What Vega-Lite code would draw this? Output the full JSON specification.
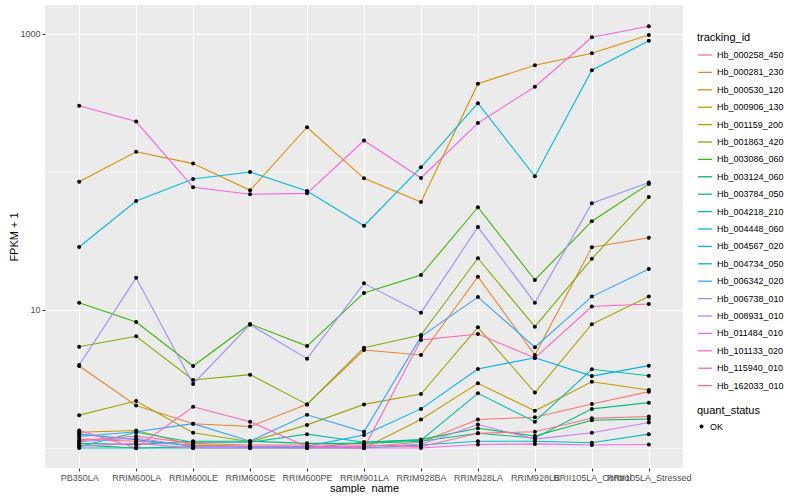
{
  "$schema": "https://vega.github.io/schema/vega-lite/v6.json",
  "width": 638,
  "height": 463,
  "padding": {"left": 8, "top": 5, "right": 0, "bottom": 0},
  "background": "white",
  "datasets": {
    "d": [
      {"s":"PB350LA","id":"Hb_000258_450","v":1.16},{"s":"RRIM600LA","id":"Hb_000258_450","v":1.12},{"s":"RRIM600LE","id":"Hb_000258_450","v":1.05},{"s":"RRIM600SE","id":"Hb_000258_450","v":1.02},{"s":"RRIM600PE","id":"Hb_000258_450","v":1.02},{"s":"RRIM901LA","id":"Hb_000258_450","v":1.02},{"s":"RRIM928BA","id":"Hb_000258_450","v":1.1},{"s":"RRIM928LA","id":"Hb_000258_450","v":1.61},{"s":"RRIM928LB","id":"Hb_000258_450","v":1.67},{"s":"RRII105LA_Control","id":"Hb_000258_450","v":2.08},{"s":"RRII105LA_Stressed","id":"Hb_000258_450","v":2.56},
      {"s":"PB350LA","id":"Hb_000281_230","v":3.93},{"s":"RRIM600LA","id":"Hb_000281_230","v":2.03},{"s":"RRIM600LE","id":"Hb_000281_230","v":1.5},{"s":"RRIM600SE","id":"Hb_000281_230","v":1.43},{"s":"RRIM600PE","id":"Hb_000281_230","v":2.07},{"s":"RRIM901LA","id":"Hb_000281_230","v":5.13},{"s":"RRIM928BA","id":"Hb_000281_230","v":4.72},{"s":"RRIM928LA","id":"Hb_000281_230","v":17.4},{"s":"RRIM928LB","id":"Hb_000281_230","v":4.72},{"s":"RRII105LA_Control","id":"Hb_000281_230","v":28.5},{"s":"RRII105LA_Stressed","id":"Hb_000281_230","v":33.4},
      {"s":"PB350LA","id":"Hb_000530_120","v":85},{"s":"RRIM600LA","id":"Hb_000530_120","v":140},{"s":"RRIM600LE","id":"Hb_000530_120","v":115},{"s":"RRIM600SE","id":"Hb_000530_120","v":73.6},{"s":"RRIM600PE","id":"Hb_000530_120","v":211},{"s":"RRIM901LA","id":"Hb_000530_120","v":90},{"s":"RRIM928BA","id":"Hb_000530_120","v":60.6},{"s":"RRIM928LA","id":"Hb_000530_120","v":436},{"s":"RRIM928LB","id":"Hb_000530_120","v":593},{"s":"RRII105LA_Control","id":"Hb_000530_120","v":725},{"s":"RRII105LA_Stressed","id":"Hb_000530_120","v":984},
      {"s":"PB350LA","id":"Hb_000906_130","v":1.3},{"s":"RRIM600LA","id":"Hb_000906_130","v":1.34},{"s":"RRIM600LE","id":"Hb_000906_130","v":1.05},{"s":"RRIM600SE","id":"Hb_000906_130","v":1.03},{"s":"RRIM600PE","id":"Hb_000906_130","v":1.03},{"s":"RRIM901LA","id":"Hb_000906_130","v":1.0},{"s":"RRIM928BA","id":"Hb_000906_130","v":1.61},{"s":"RRIM928LA","id":"Hb_000906_130","v":2.94},{"s":"RRIM928LB","id":"Hb_000906_130","v":1.86},{"s":"RRII105LA_Control","id":"Hb_000906_130","v":3.02},{"s":"RRII105LA_Stressed","id":"Hb_000906_130","v":2.63},
      {"s":"PB350LA","id":"Hb_001159_200","v":1.73},{"s":"RRIM600LA","id":"Hb_001159_200","v":2.19},{"s":"RRIM600LE","id":"Hb_001159_200","v":1.29},{"s":"RRIM600SE","id":"Hb_001159_200","v":1.11},{"s":"RRIM600PE","id":"Hb_001159_200","v":1.47},{"s":"RRIM901LA","id":"Hb_001159_200","v":2.07},{"s":"RRIM928BA","id":"Hb_001159_200","v":2.46},{"s":"RRIM928LA","id":"Hb_001159_200","v":7.49},{"s":"RRIM928LB","id":"Hb_001159_200","v":2.52},{"s":"RRII105LA_Control","id":"Hb_001159_200","v":7.88},{"s":"RRII105LA_Stressed","id":"Hb_001159_200","v":12.5},
      {"s":"PB350LA","id":"Hb_001863_420","v":5.42},{"s":"RRIM600LA","id":"Hb_001863_420","v":6.45},{"s":"RRIM600LE","id":"Hb_001863_420","v":3.11},{"s":"RRIM600SE","id":"Hb_001863_420","v":3.4},{"s":"RRIM600PE","id":"Hb_001863_420","v":2.07},{"s":"RRIM901LA","id":"Hb_001863_420","v":5.33},{"s":"RRIM928BA","id":"Hb_001863_420","v":6.59},{"s":"RRIM928LA","id":"Hb_001863_420","v":23.7},{"s":"RRIM928LB","id":"Hb_001863_420","v":7.57},{"s":"RRII105LA_Control","id":"Hb_001863_420","v":23.5},{"s":"RRII105LA_Stressed","id":"Hb_001863_420","v":66},
      {"s":"PB350LA","id":"Hb_003086_060","v":11.3},{"s":"RRIM600LA","id":"Hb_003086_060","v":8.19},{"s":"RRIM600LE","id":"Hb_003086_060","v":3.93},{"s":"RRIM600SE","id":"Hb_003086_060","v":7.92},{"s":"RRIM600PE","id":"Hb_003086_060","v":5.48},{"s":"RRIM901LA","id":"Hb_003086_060","v":13.3},{"s":"RRIM928BA","id":"Hb_003086_060","v":17.9},{"s":"RRIM928LA","id":"Hb_003086_060","v":55.5},{"s":"RRIM928LB","id":"Hb_003086_060","v":16.5},{"s":"RRII105LA_Control","id":"Hb_003086_060","v":44},{"s":"RRII105LA_Stressed","id":"Hb_003086_060","v":82},
      {"s":"PB350LA","id":"Hb_003124_060","v":1.05},{"s":"RRIM600LA","id":"Hb_003124_060","v":1.0},{"s":"RRIM600LE","id":"Hb_003124_060","v":1.02},{"s":"RRIM600SE","id":"Hb_003124_060","v":1.02},{"s":"RRIM600PE","id":"Hb_003124_060","v":1.0},{"s":"RRIM901LA","id":"Hb_003124_060","v":1.1},{"s":"RRIM928BA","id":"Hb_003124_060","v":1.15},{"s":"RRIM928LA","id":"Hb_003124_060","v":1.39},{"s":"RRIM928LB","id":"Hb_003124_060","v":1.22},{"s":"RRII105LA_Control","id":"Hb_003124_060","v":1.59},{"s":"RRII105LA_Stressed","id":"Hb_003124_060","v":1.62},
      {"s":"PB350LA","id":"Hb_003784_050","v":1.08},{"s":"RRIM600LA","id":"Hb_003784_050","v":1.06},{"s":"RRIM600LE","id":"Hb_003784_050","v":1.12},{"s":"RRIM600SE","id":"Hb_003784_050","v":1.12},{"s":"RRIM600PE","id":"Hb_003784_050","v":1.08},{"s":"RRIM901LA","id":"Hb_003784_050","v":1.08},{"s":"RRIM928BA","id":"Hb_003784_050","v":1.12},{"s":"RRIM928LA","id":"Hb_003784_050","v":1.28},{"s":"RRIM928LB","id":"Hb_003784_050","v":1.18},{"s":"RRII105LA_Control","id":"Hb_003784_050","v":1.92},{"s":"RRII105LA_Stressed","id":"Hb_003784_050","v":2.13},
      {"s":"PB350LA","id":"Hb_004218_210","v":1.02},{"s":"RRIM600LA","id":"Hb_004218_210","v":1.3},{"s":"RRIM600LE","id":"Hb_004218_210","v":1.1},{"s":"RRIM600SE","id":"Hb_004218_210","v":1.1},{"s":"RRIM600PE","id":"Hb_004218_210","v":1.26},{"s":"RRIM901LA","id":"Hb_004218_210","v":1.1},{"s":"RRIM928BA","id":"Hb_004218_210","v":1.14},{"s":"RRIM928LA","id":"Hb_004218_210","v":2.49},{"s":"RRIM928LB","id":"Hb_004218_210","v":1.55},{"s":"RRII105LA_Control","id":"Hb_004218_210","v":3.72},{"s":"RRII105LA_Stressed","id":"Hb_004218_210","v":3.34},
      {"s":"PB350LA","id":"Hb_004448_060","v":1.0},{"s":"RRIM600LA","id":"Hb_004448_060","v":1.0},{"s":"RRIM600LE","id":"Hb_004448_060","v":1.0},{"s":"RRIM600SE","id":"Hb_004448_060","v":1.0},{"s":"RRIM600PE","id":"Hb_004448_060","v":1.0},{"s":"RRIM901LA","id":"Hb_004448_060","v":1.0},{"s":"RRIM928BA","id":"Hb_004448_060","v":1.05},{"s":"RRIM928LA","id":"Hb_004448_060","v":1.12},{"s":"RRIM928LB","id":"Hb_004448_060","v":1.12},{"s":"RRII105LA_Control","id":"Hb_004448_060","v":1.09},{"s":"RRII105LA_Stressed","id":"Hb_004448_060","v":1.26},
      {"s":"PB350LA","id":"Hb_004567_020","v":28.6},{"s":"RRIM600LA","id":"Hb_004567_020","v":61.6},{"s":"RRIM600LE","id":"Hb_004567_020","v":89},{"s":"RRIM600SE","id":"Hb_004567_020","v":100},{"s":"RRIM600PE","id":"Hb_004567_020","v":72.8},{"s":"RRIM901LA","id":"Hb_004567_020","v":40.8},{"s":"RRIM928BA","id":"Hb_004567_020","v":108},{"s":"RRIM928LA","id":"Hb_004567_020","v":315},{"s":"RRIM928LB","id":"Hb_004567_020","v":93},{"s":"RRII105LA_Control","id":"Hb_004567_020","v":546},{"s":"RRII105LA_Stressed","id":"Hb_004567_020","v":894},
      {"s":"PB350LA","id":"Hb_004734_050","v":1.26},{"s":"RRIM600LA","id":"Hb_004734_050","v":1.15},{"s":"RRIM600LE","id":"Hb_004734_050","v":1.03},{"s":"RRIM600SE","id":"Hb_004734_050","v":1.02},{"s":"RRIM600PE","id":"Hb_004734_050","v":1.03},{"s":"RRIM901LA","id":"Hb_004734_050","v":1.24},{"s":"RRIM928BA","id":"Hb_004734_050","v":1.92},{"s":"RRIM928LA","id":"Hb_004734_050","v":3.73},{"s":"RRIM928LB","id":"Hb_004734_050","v":4.51},{"s":"RRII105LA_Control","id":"Hb_004734_050","v":3.32},{"s":"RRII105LA_Stressed","id":"Hb_004734_050","v":3.95},
      {"s":"PB350LA","id":"Hb_006342_020","v":1.21},{"s":"RRIM600LA","id":"Hb_006342_020","v":1.31},{"s":"RRIM600LE","id":"Hb_006342_020","v":1.5},{"s":"RRIM600SE","id":"Hb_006342_020","v":1.12},{"s":"RRIM600PE","id":"Hb_006342_020","v":1.74},{"s":"RRIM901LA","id":"Hb_006342_020","v":1.31},{"s":"RRIM928BA","id":"Hb_006342_020","v":6.41},{"s":"RRIM928LA","id":"Hb_006342_020","v":12.4},{"s":"RRIM928LB","id":"Hb_006342_020","v":5.37},{"s":"RRII105LA_Control","id":"Hb_006342_020","v":12.5},{"s":"RRII105LA_Stressed","id":"Hb_006342_020","v":19.8},
      {"s":"PB350LA","id":"Hb_006738_010","v":3.99},{"s":"RRIM600LA","id":"Hb_006738_010","v":17.1},{"s":"RRIM600LE","id":"Hb_006738_010","v":2.91},{"s":"RRIM600SE","id":"Hb_006738_010","v":7.83},{"s":"RRIM600PE","id":"Hb_006738_010","v":4.44},{"s":"RRIM901LA","id":"Hb_006738_010","v":15.6},{"s":"RRIM928BA","id":"Hb_006738_010","v":9.56},{"s":"RRIM928LA","id":"Hb_006738_010","v":39.9},{"s":"RRIM928LB","id":"Hb_006738_010","v":11.3},{"s":"RRII105LA_Control","id":"Hb_006738_010","v":59.3},{"s":"RRII105LA_Stressed","id":"Hb_006738_010","v":84},
      {"s":"PB350LA","id":"Hb_008931_010","v":1.11},{"s":"RRIM600LA","id":"Hb_008931_010","v":1.18},{"s":"RRIM600LE","id":"Hb_008931_010","v":1.03},{"s":"RRIM600SE","id":"Hb_008931_010","v":1.02},{"s":"RRIM600PE","id":"Hb_008931_010","v":1.02},{"s":"RRIM901LA","id":"Hb_008931_010","v":1.03},{"s":"RRIM928BA","id":"Hb_008931_010","v":1.06},{"s":"RRIM928LA","id":"Hb_008931_010","v":1.48},{"s":"RRIM928LB","id":"Hb_008931_010","v":1.16},{"s":"RRII105LA_Control","id":"Hb_008931_010","v":1.29},{"s":"RRII105LA_Stressed","id":"Hb_008931_010","v":1.53},
      {"s":"PB350LA","id":"Hb_011484_010","v":1.03},{"s":"RRIM600LA","id":"Hb_011484_010","v":1.08},{"s":"RRIM600LE","id":"Hb_011484_010","v":1.0},{"s":"RRIM600SE","id":"Hb_011484_010","v":1.0},{"s":"RRIM600PE","id":"Hb_011484_010","v":1.0},{"s":"RRIM901LA","id":"Hb_011484_010","v":1.0},{"s":"RRIM928BA","id":"Hb_011484_010","v":1.0},{"s":"RRIM928LA","id":"Hb_011484_010","v":1.06},{"s":"RRIM928LB","id":"Hb_011484_010","v":1.07},{"s":"RRII105LA_Control","id":"Hb_011484_010","v":1.05},{"s":"RRII105LA_Stressed","id":"Hb_011484_010","v":1.06},
      {"s":"PB350LA","id":"Hb_101133_020","v":302},{"s":"RRIM600LA","id":"Hb_101133_020","v":232},{"s":"RRIM600LE","id":"Hb_101133_020","v":77.5},{"s":"RRIM600SE","id":"Hb_101133_020","v":68.9},{"s":"RRIM600PE","id":"Hb_101133_020","v":70},{"s":"RRIM901LA","id":"Hb_101133_020","v":169},{"s":"RRIM928BA","id":"Hb_101133_020","v":90.5},{"s":"RRIM928LA","id":"Hb_101133_020","v":226},{"s":"RRIM928LB","id":"Hb_101133_020","v":415},{"s":"RRII105LA_Control","id":"Hb_101133_020","v":946},{"s":"RRII105LA_Stressed","id":"Hb_101133_020","v":1137},
      {"s":"PB350LA","id":"Hb_115940_010","v":1.34},{"s":"RRIM600LA","id":"Hb_115940_010","v":1.0},{"s":"RRIM600LE","id":"Hb_115940_010","v":1.99},{"s":"RRIM600SE","id":"Hb_115940_010","v":1.55},{"s":"RRIM600PE","id":"Hb_115940_010","v":1.02},{"s":"RRIM901LA","id":"Hb_115940_010","v":1.0},{"s":"RRIM928BA","id":"Hb_115940_010","v":6.06},{"s":"RRIM928LA","id":"Hb_115940_010","v":6.7},{"s":"RRIM928LB","id":"Hb_115940_010","v":4.49},{"s":"RRII105LA_Control","id":"Hb_115940_010","v":10.6},{"s":"RRII105LA_Stressed","id":"Hb_115940_010","v":11.05},
      {"s":"PB350LA","id":"Hb_162033_010","v":1.13},{"s":"RRIM600LA","id":"Hb_162033_010","v":1.22},{"s":"RRIM600LE","id":"Hb_162033_010","v":1.08},{"s":"RRIM600SE","id":"Hb_162033_010","v":1.05},{"s":"RRIM600PE","id":"Hb_162033_010","v":1.05},{"s":"RRIM901LA","id":"Hb_162033_010","v":1.05},{"s":"RRIM928BA","id":"Hb_162033_010","v":1.02},{"s":"RRIM928LA","id":"Hb_162033_010","v":1.28},{"s":"RRIM928LB","id":"Hb_162033_010","v":1.31},{"s":"RRII105LA_Control","id":"Hb_162033_010","v":1.64},{"s":"RRII105LA_Stressed","id":"Hb_162033_010","v":1.69}
    ]
  },
  "data": {"name": "d"},
  "transform": [{"calculate": "'OK'", "as": "quant_status"}],
  "encoding": {
    "x": {
      "field": "s", "type": "nominal", "title": "sample_name",
      "sort": ["PB350LA","RRIM600LA","RRIM600LE","RRIM600SE","RRIM600PE","RRIM901LA","RRIM928BA","RRIM928LA","RRIM928LB","RRII105LA_Control","RRII105LA_Stressed"],
      "scale": {"type": "point", "padding": 0.6},
      "axis": {"labelAngle": 0, "labelOverlap": false, "grid": true, "gridWidth": 1.1, "labelPadding": 2, "titlePadding": 0}
    },
    "y": {
      "field": "v", "type": "quantitative", "title": "FPKM + 1",
      "scale": {"type": "log", "domain": [0.716, 1622], "nice": false},
      "axis": {
        "values": [1, 10, 100, 1000],
        "labelExpr": "datum.value == 10 || datum.value == 1000 ? datum.label : ''",
        "format": "d",
        "gridWidth": {"condition": {"test": "datum.value == 10 || datum.value == 1000", "value": 1.1}, "value": 0.5},
        "tickOpacity": {"condition": {"test": "datum.value == 10 || datum.value == 1000", "value": 1}, "value": 0},
        "labelPadding": 2,
        "titlePadding": 0
      }
    }
  },
  "layer": [
    {
      "mark": {"type": "line", "strokeWidth": 1.1},
      "encoding": {
        "color": {
          "field": "id", "type": "nominal", "title": "tracking_id",
          "scale": {
            "domain": ["Hb_000258_450","Hb_000281_230","Hb_000530_120","Hb_000906_130","Hb_001159_200","Hb_001863_420","Hb_003086_060","Hb_003124_060","Hb_003784_050","Hb_004218_210","Hb_004448_060","Hb_004567_020","Hb_004734_050","Hb_006342_020","Hb_006738_010","Hb_008931_010","Hb_011484_010","Hb_101133_020","Hb_115940_010","Hb_162033_010"],
            "range": ["#F8766D","#EA8331","#D89000","#C09B00","#A3A500","#7CAE00","#39B600","#00BB4E","#00BF7D","#00C1A3","#00BFC4","#00BAE0","#00B0F6","#35A2FF","#9590FF","#C77CFF","#E76BF3","#FA62DB","#FF62BC","#FF6C91"]
          },
          "legend": {"orient": "none", "legendX": 652, "legendY": 27, "symbolType": "stroke", "symbolSize": 200, "symbolStrokeWidth": 1.3, "rowPadding": 4.4, "titlePadding": 4, "order": 1}
        }
      }
    },
    {
      "mark": {"type": "point", "filled": true, "color": "black", "size": 16, "opacity": 1},
      "encoding": {
        "shape": {
          "field": "quant_status", "type": "nominal", "title": "quant_status",
          "scale": {"range": ["circle"]},
          "legend": {"orient": "none", "legendX": 652, "legendY": 400, "symbolFillColor": "black", "symbolStrokeColor": "black", "symbolSize": 16, "symbolOpacity": 1, "titlePadding": 6, "order": 2}
        }
      }
    }
  ],
  "config": {
    "font": "Liberation Sans",
    "view": {"fill": "#EBEBEB", "stroke": null},
    "axis": {
      "domain": false, "tickColor": "#333333", "tickSize": 3, "tickWidth": 1,
      "labelColor": "#4D4D4D", "labelFontSize": 9, "labelFont": "Liberation Sans",
      "titleFontSize": 11, "titleFontWeight": "normal", "titleColor": "black", "titleFont": "Liberation Sans",
      "gridColor": "white"
    },
    "legend": {
      "padding": 0,
      "titleFontSize": 11, "titleFontWeight": "normal", "titleColor": "black", "titleFont": "Liberation Sans",
      "labelFontSize": 9, "labelColor": "black", "labelFont": "Liberation Sans"
    }
  }
}
